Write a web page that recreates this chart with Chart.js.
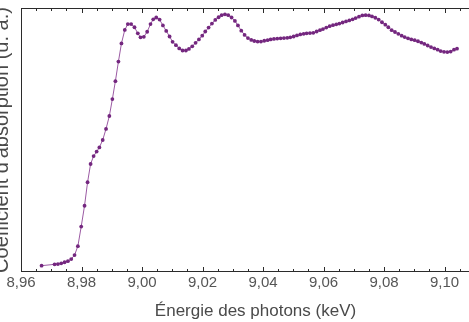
<!DOCTYPE html>
<html>
<head>
<meta charset="utf-8">
<script src="https://cdn.jsdelivr.net/npm/chart.js@4"></script>
<style>
  html, body { margin: 0; padding: 0; width: 469px; height: 322px; overflow: hidden; background: #fff; }
  #wrap { position: absolute; left: -6px; top: 0; }
</style>
</head>
<body>
<div id="wrap"><canvas id="xanesChart" width="500" height="322"></canvas></div>
<script>
// Energie des photons (keV)
const energies = [
    8.9668, 8.9711, 8.9722, 8.9733, 8.9744, 8.9755, 8.9766, 8.9777, 8.9788, 8.9799,
    8.9810, 8.9820, 8.9830, 8.9840, 8.9850, 8.9859, 8.9870, 8.9881, 8.9892, 8.9902,
    8.9912, 8.9922, 8.9932, 8.9943, 8.9953, 8.9964, 8.9975, 8.9986, 8.9995, 9.0006,
    9.0017, 9.0028, 9.0037,
    9.0047, 9.0058, 9.0069, 9.0080, 9.0091, 9.0101, 9.0112, 9.0123, 9.0134, 9.0145,
    9.0155, 9.0166, 9.0177, 9.0188, 9.0199, 9.0209, 9.0220, 9.0231, 9.0242, 9.0253,
    9.0263, 9.0274, 9.0285, 9.0296, 9.0307, 9.0317, 9.0328, 9.0339, 9.0350, 9.0361,
    9.0371, 9.0382, 9.0393, 9.0404, 9.0415, 9.0425, 9.0436, 9.0447, 9.0458, 9.0469,
    9.0480, 9.0490, 9.0501, 9.0512, 9.0523, 9.0534, 9.0544, 9.0555, 9.0566, 9.0577,
    9.0588, 9.0598, 9.0609, 9.0620, 9.0631, 9.0642, 9.0652, 9.0663, 9.0674, 9.0685,
    9.0696, 9.0706, 9.0717, 9.0728, 9.0739, 9.0750, 9.0760, 9.0771, 9.0782, 9.0793,
    9.0804, 9.0814, 9.0825, 9.0836, 9.0847, 9.0858, 9.0868, 9.0879, 9.0890, 9.0901,
    9.0912, 9.0923, 9.0933, 9.0944, 9.0955, 9.0966, 9.0977, 9.0987, 9.0998, 9.1009,
    9.1020, 9.1031, 9.1041
];

// Coefficient d'absorption (u. a.)
const absorption = [
    2.4, 2.9, 3.0, 3.3, 3.7, 4.1, 4.9, 6.4, 9.8, 17.2,
    25.1, 34.0, 40.9, 43.9, 45.6, 47.2, 50.0, 54.2, 59.1, 65.5,
    72.3, 79.7, 86.6, 91.7, 93.9, 93.9, 92.7, 90.4, 88.9, 89.1,
    91.0, 93.9, 95.7,
    96.4, 95.6, 93.4, 91.3, 89.2, 87.2, 85.9, 84.7, 83.9, 83.9,
    84.5, 85.5, 86.8, 88.1, 89.5, 91.1, 92.6, 94.1, 95.5, 96.5,
    97.3, 97.6, 97.3, 96.4, 95.1, 93.4, 91.4, 89.8, 88.6, 87.9,
    87.5, 87.3, 87.3, 87.6, 87.8, 88.1, 88.3, 88.4, 88.5, 88.6,
    88.7, 88.9, 89.2, 89.6, 90.0, 90.2, 90.4, 90.5, 90.6, 91.1,
    91.6, 92.0, 92.6, 93.1, 93.5, 93.8, 94.1, 94.5, 94.9, 95.3,
    95.7, 96.2, 96.7, 97.2, 97.3, 97.2, 96.8, 96.3, 95.6, 94.6,
    93.7, 92.7, 91.6, 90.9, 90.2, 89.5, 89.0, 88.5, 88.1, 87.8,
    87.4, 86.9, 86.4, 85.8, 85.2, 84.7, 84.2, 83.7, 83.4, 83.3,
    83.5, 84.2, 84.6
];

const xTicks = [8.96, 8.98, 9.00, 9.02, 9.04, 9.06, 9.08, 9.10];
const xTickLabels = ['8,96', '8,98', '9,00', '9,02', '9,04', '9,06', '9,08', '9,10'];

const points = energies.map((e, i) => ({ x: e, y: absorption[i] }));

// cadre + graduations tournées vers l'intérieur
const framePlugin = {
    id: 'frame',
    beforeDatasetsDraw(chart) {
        const ctx = chart.ctx;
        const area = chart.chartArea;
        const xs = chart.scales.x;
        ctx.save();
        ctx.strokeStyle = '#2b2b2b';
        ctx.lineWidth = 1;
        ctx.beginPath();
        ctx.moveTo(area.left + 0.5, area.top + 0.5);
        ctx.lineTo(area.right, area.top + 0.5);
        ctx.moveTo(area.left + 0.5, area.top + 0.5);
        ctx.lineTo(area.left + 0.5, area.bottom - 0.5);
        ctx.lineTo(area.right, area.bottom - 0.5);
        ctx.stroke();

        ctx.beginPath();
        for (let i = 0; i <= 32; i++) {
            const v = 8.96 + i * 0.005;
            const px = Math.round(xs.getPixelForValue(v)) + 0.5;
            const len = (i % 4 === 0) ? 5 : 3;
            ctx.moveTo(px, area.top);
            ctx.lineTo(px, area.top + len);
            ctx.moveTo(px, area.bottom);
            ctx.lineTo(px, area.bottom - len);
        }
        ctx.stroke();
        ctx.restore();
    }
};

const ctxXanes = document.getElementById('xanesChart').getContext('2d');
const xanesChart = new Chart(ctxXanes, {
    type: 'line',
    data: {
        datasets: [
            {
                data: points,
                borderColor: '#9b5aa3',
                borderWidth: 1,
                backgroundColor: '#74277f',
                pointBackgroundColor: '#74277f',
                pointBorderWidth: 0,
                pointRadius: 1.9,
                tension: 0,
                fill: false
            }
        ]
    },
    options: {
        responsive: false,
        animation: false,
        devicePixelRatio: 1,
        layout: { padding: { top: 8, left: 0, right: 0, bottom: 0 } },
        plugins: {
            legend: { display: false },
            tooltip: { enabled: false }
        },
        scales: {
            x: {
                type: 'linear',
                min: 8.96,
                max: 9.115,
                grid: { display: false, drawTicks: false },
                border: { display: false },
                afterBuildTicks: function(scale) {
                    scale.ticks = xTicks.map(v => ({ value: v }));
                },
                afterFit: function(scale) {
                    scale.height = 50;
                },
                ticks: {
                    autoSkip: false,
                    maxRotation: 0,
                    padding: 2,
                    color: '#555',
                    font: { family: 'Liberation Sans', size: 15 },
                    callback: function(value, index) {
                        return xTickLabels[index];
                    }
                },
                title: {
                    display: true,
                    text: 'Énergie des photons (keV)',
                    color: '#4a4a4a',
                    padding: 0,
                    font: { family: 'Liberation Sans', size: 17 }
                }
            },
            y: {
                min: 0,
                max: 100,
                grid: { display: false, drawTicks: false },
                border: { display: false },
                ticks: { display: false },
                afterFit: function(scale) {
                    scale.width = 27;
                },
                title: {
                    display: true,
                    text: "Coefficient d'absorption (u. a.)",
                    color: '#4a4a4a',
                    padding: 0,
                    font: { family: 'Liberation Sans', size: 20, lineHeight: 0.8 }
                }
            }
        }
    },
    plugins: [framePlugin]
});
</script>
</body>
</html>
